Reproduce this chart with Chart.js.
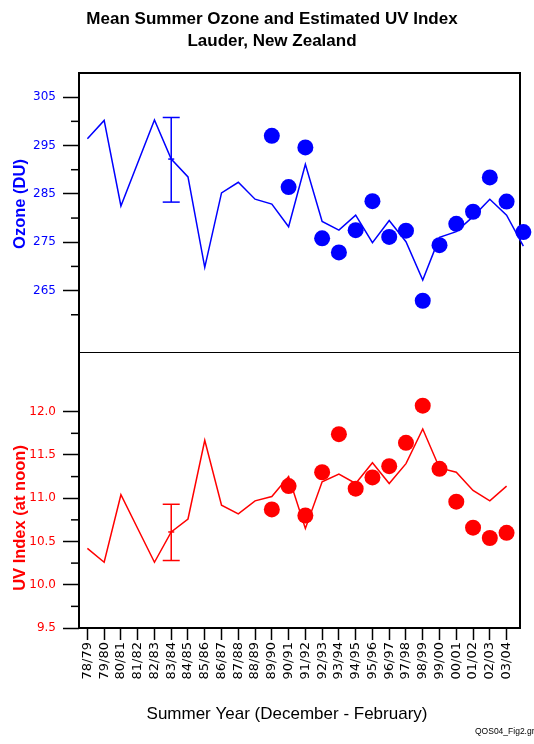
<!DOCTYPE html>
<html lang="en">
<head>
<meta charset="UTF-8">
<title>Mean Summer Ozone and Estimated UV Index</title>
<script src="https://cdn.jsdelivr.net/npm/chart.js"></script>
<style>
  body { margin: 0; background: #fff; }
  canvas { display: block; }
</style>
</head>
<body>
<canvas id="ozoneUvChart" width="534" height="744"></canvas>
<script>
// summer seasons (Dec - Feb); the last one is only partly shown at the right edge
const seasons = ['78/79', '79/80', '80/81', '81/82', '82/83', '83/84', '84/85', '85/86', '86/87',
  '87/88', '88/89', '89/90', '90/91', '91/92', '92/93', '93/94', '94/95', '95/96', '96/97',
  '97/98', '98/99', '99/00', '00/01', '01/02', '02/03', '03/04', '04/05'];

// ozone (DU): line = estimated, dots = measured from 89/90 on
const ozoneLine = [296.4, 300.2, 282.5, 291.4, 300.3, 292.2, 288.5, 269.8, 285.2, 287.4, 283.9,
  282.9, 278.2, 291.1, 279.3, 277.5, 280.6, 274.9, 279.5, 275.1, 267.2, 276.0, 277.2, 280.3,
  283.9, 280.6, 274.2];
const ozoneDots = [297.0, 286.4, 294.6, 275.8, 272.9, 277.5, 283.5, 276.1, 277.4, 262.9, 274.4,
  278.8, 281.3, 288.4, 283.4, 277.1];

// UV index at noon
const uvLine = [10.42, 10.26, 11.04, 10.65, 10.26, 10.61, 10.76, 11.67, 10.92, 10.82, 10.97,
  11.02, 11.25, 10.65, 11.19, 11.28, 11.17, 11.41, 11.17, 11.40, 11.80, 11.35, 11.30, 11.09,
  10.97, 11.14];
const uvDots = [10.87, 11.14, 10.80, 11.30, 11.74, 11.11, 11.24, 11.37, 11.64, 12.07, 11.34,
  10.96, 10.66, 10.54, 10.60];

const dotsStart = 11; // 89/90

// error bars (high, mean, low) drawn at 83/84
const errorBarAt = 5;
const ozoneErrorBar = [300.8, 292.2, 283.3];
const uvErrorBar = [10.93, 10.61, 10.28];

const ozoneTicks = [265, 275, 285, 295, 305];
const ozoneMinor = [260, 270, 280, 290, 300];
const uvTicks = [9.5, 10.0, 10.5, 11.0, 11.5, 12.0];
const uvMinor = [9.75, 10.25, 10.75, 11.25, 11.75];

const BLUE = '#0000ff';
const RED = '#ff0000';
const SANS = "'Liberation Sans', Arial, sans-serif";

const toPoints = (vals, start = 0) => vals.map((y, i) => ({ x: start + i, y: y }));
const barPoints = vals => vals.map(y => ({ x: errorBarAt, y: y }));

// minor ticks, panel divider, frame and the free texts
const decorations = {
  id: 'decorations',
  beforeDatasetsDraw(chart) {
    const { ctx, chartArea: a, scales } = chart;
    ctx.save();
    ctx.strokeStyle = '#000';
    ctx.lineWidth = 1.5;
    [[scales.ozone, ozoneMinor], [scales.uv, uvMinor]].forEach(([s, vals]) => {
      vals.forEach(v => {
        const y = s.getPixelForValue(v);
        ctx.beginPath();
        ctx.moveTo(a.left - 8, y);
        ctx.lineTo(a.left, y);
        ctx.stroke();
      });
    });
    ctx.lineWidth = 1;
    const yDiv = Math.round(scales.ozone.bottom) + 0.5;
    ctx.beginPath();
    ctx.moveTo(a.left, yDiv);
    ctx.lineTo(a.right, yDiv);
    ctx.stroke();
    ctx.lineWidth = 2;
    ctx.strokeRect(a.left, a.top, a.right - a.left, a.bottom - a.top);
    ctx.restore();
  },
  afterDraw(chart) {
    const ctx = chart.ctx;
    ctx.save();
    ctx.textAlign = 'center';
    ctx.textBaseline = 'alphabetic';
    ctx.fillStyle = '#000';
    ctx.font = 'bold 17px ' + SANS;
    ctx.fillText('Mean Summer Ozone and Estimated UV Index', 272, 24);
    ctx.fillText('Lauder, New Zealand', 272, 46);

    ctx.font = '17px ' + SANS;
    ctx.fillText('Summer Year (December - February)', 287, 719);

    ctx.textAlign = 'left';
    ctx.font = '8.5px ' + SANS;
    ctx.fillText('QOS04_Fig2.gr', 475, 734);

    ctx.textAlign = 'center';
    ctx.textBaseline = 'middle';
    ctx.font = 'bold 16.5px ' + SANS;
    ctx.translate(20, 204);
    ctx.rotate(-Math.PI / 2);
    ctx.fillStyle = BLUE;
    ctx.fillText('Ozone (DU)', 0, 0);
    ctx.rotate(Math.PI / 2);
    ctx.translate(0, 314);
    ctx.rotate(-Math.PI / 2);
    ctx.fillStyle = RED;
    ctx.fillText('UV Index (at noon)', 0, 0);
    ctx.restore();
  }
};

const yTickGrid = { drawOnChartArea: false, tickLength: 16, tickWidth: 1.5, tickColor: '#000' };

new Chart(document.getElementById('ozoneUvChart'), {
  type: 'line',
  data: {
    datasets: [
      { data: toPoints(ozoneLine), yAxisID: 'ozone', borderColor: BLUE, borderWidth: 1.5,
        pointRadius: 0, tension: 0, clip: false },
      { data: toPoints(ozoneDots, dotsStart), yAxisID: 'ozone', showLine: false,
        pointRadius: 8, pointBackgroundColor: BLUE, pointBorderWidth: 0, clip: false },
      { data: barPoints(ozoneErrorBar), yAxisID: 'ozone', borderColor: BLUE, borderWidth: 1.5,
        pointStyle: 'line', pointRadius: [8.5, 3, 8.5], pointBorderColor: BLUE, pointBorderWidth: 1.5 },
      { data: toPoints(uvLine), yAxisID: 'uv', borderColor: RED, borderWidth: 1.5,
        pointRadius: 0, tension: 0, clip: false },
      { data: toPoints(uvDots, dotsStart), yAxisID: 'uv', showLine: false,
        pointRadius: 8, pointBackgroundColor: RED, pointBorderWidth: 0, clip: false },
      { data: barPoints(uvErrorBar), yAxisID: 'uv', borderColor: RED, borderWidth: 1.5,
        pointStyle: 'line', pointRadius: [8.5, 3, 8.5], pointBorderColor: RED, pointBorderWidth: 1.5 }
    ]
  },
  options: {
    responsive: false,
    animation: false,
    events: [],
    layout: { padding: { top: 73, right: 14, left: 0, bottom: 0 } },
    plugins: { legend: { display: false }, tooltip: { enabled: false } },
    scales: {
      x: {
        type: 'linear',
        min: -0.5,
        max: 25.8,
        afterBuildTicks: s => { s.ticks = seasons.slice(0, 26).map((_, i) => ({ value: i })); },
        afterFit: s => { s.height = 116; },
        grid: { drawOnChartArea: false, tickLength: 12, tickWidth: 1.5, tickColor: '#000' },
        border: { display: false },
        ticks: {
          autoSkip: false, minRotation: 90, maxRotation: 90, padding: 2, color: '#000',
          font: { family: 'DejaVu Sans', size: 13 },
          callback: v => seasons[v]
        }
      },
      ozone: {
        type: 'linear',
        position: 'left',
        stack: 'panels',
        stackWeight: 279,
        weight: 2,
        min: 252.3,
        max: 310,
        afterBuildTicks: s => { s.ticks = ozoneTicks.map(v => ({ value: v })); },
        afterFit: s => { s.width = 79; },
        grid: yTickGrid,
        border: { display: false },
        ticks: { padding: 7, color: BLUE, font: { family: 'DejaVu Sans', size: 12 }, callback: v => String(v) }
      },
      uv: {
        type: 'linear',
        position: 'left',
        stack: 'panels',
        stackWeight: 276,
        weight: 1,
        min: 9.5,
        max: 12.69,
        afterBuildTicks: s => { s.ticks = uvTicks.map(v => ({ value: v })); },
        afterFit: s => { s.width = 79; },
        grid: yTickGrid,
        border: { display: false },
        ticks: { padding: 7, color: RED, font: { family: 'DejaVu Sans', size: 12 }, callback: v => v.toFixed(1) }
      }
    }
  },
  plugins: [decorations]
});
</script>
</body>
</html>
